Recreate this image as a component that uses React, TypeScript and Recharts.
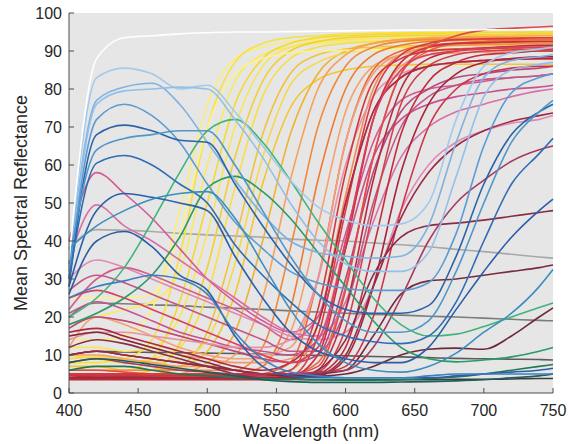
import { CartesianGrid, Line, LineChart, XAxis, YAxis } from "recharts";

// sampling grid (nm)
const wavelengths = [400, 420, 440, 460, 480, 500, 520, 540, 560, 580, 600, 620, 640, 660, 680, 700, 720, 740, 750];
const xTicks = [400, 450, 500, 550, 600, 650, 700, 750];
const yTicks = [0, 10, 20, 30, 40, 50, 60, 70, 80, 90, 100];

const graySeries = [
  [38, 43, 42.8, 42.5, 42, 41.6, 41.3, 41, 40.5, 40.2, 40, 39.5, 39, 38.5, 37.8, 37.2, 36.5, 35.8, 35.5],
  [21, 23.7, 23.5, 23.2, 23, 22.6, 22.3, 22, 21.6, 21.3, 21, 20.7, 20.5, 20.2, 20, 19.7, 19.4, 19.1, 19],
  [10, 11, 10.8, 10.7, 10.6, 10.5, 10.4, 10.2, 10, 9.9, 9.8, 9.6, 9.5, 9.3, 9.1, 9, 8.9, 8.8, 8.7],
  [4, 4.5, 4.4, 4.2, 4, 3.9, 3.8, 3.7, 3.6, 3.5, 3.5, 3.5, 3.5, 3.5, 3.6, 3.6, 3.7, 3.8, 3.8],
];
const grayColors = ["#a8a8a8", "#7c7c7c", "#5c5c5c", "#3c3c3c"];

const yellowSeries = [
  [14, 14, 15, 22, 48, 76, 88, 91, 92.5, 93, 93.5, 93.7, 93.8, 93.9, 94, 94, 94, 94, 94],
  [8, 8, 9, 14, 36, 70, 87, 92, 93.5, 94, 94.5, 94.7, 94.8, 94.9, 95, 95, 95, 95, 95],
  [18, 20, 22, 24, 32, 60, 82, 89, 91, 92, 92.5, 92.7, 92.8, 92.9, 93, 93, 93, 93, 93],
  [6, 6, 6, 9, 24, 50, 76, 88, 92, 93.5, 94, 94.3, 94.5, 94.6, 94.7, 94.8, 94.9, 95, 95],
  [12, 12, 11, 12, 20, 42, 70, 86, 91, 92.5, 93, 93.3, 93.5, 93.6, 93.7, 93.8, 93.9, 94, 94],
  [5, 5, 5, 6, 13, 33, 62, 82, 90, 92.5, 93.5, 93.8, 94, 94.1, 94.2, 94.3, 94.4, 94.5, 94.5],
  [10, 9, 8, 9, 12, 26, 54, 78, 88, 91, 92, 92.4, 92.6, 92.7, 92.8, 92.9, 93, 93, 93],
  [5, 5, 5, 5, 7, 16, 40, 68, 84, 89, 90.5, 91, 91.3, 91.5, 91.7, 91.8, 91.9, 92, 92],
  [7, 7, 6, 6, 7, 11, 26, 55, 75, 82.5, 85, 86, 86.3, 86.5, 86.5, 86.5, 86.5, 86.5, 86.5],
  [4, 4, 4, 4, 5, 8, 16, 40, 68, 84, 90, 92, 93, 93.3, 93.5, 93.5, 93.5, 93.5, 93.5],
  [9, 9.5, 9, 8, 9, 14, 34, 62, 81, 87, 89.5, 90.5, 91, 91.2, 91.4, 91.5, 91.5, 91.5, 91.5],
  [25, 25, 25, 26, 42, 70, 84, 88, 89.5, 90, 90.2, 90.3, 90.4, 90.5, 90.5, 90.5, 90.5, 90.5, 90.5],
];
const yellowColors = ["#fbee78", "#f7e23a", "#f9ea60", "#f5da2e", "#fae458", "#f3cf30", "#f8de48", "#f0c23a", "#f4c62c", "#efb232", "#f6d84a", "#fdf18e"];

const orangeSeries = [
  [10, 10, 9, 8, 7, 7, 10, 25, 56, 80, 89, 92, 93, 93.5, 93.7, 93.8, 93.9, 94, 94],
  [6, 6, 6, 6, 6, 6, 6, 12, 38, 70, 86, 91, 92.5, 93, 93.2, 93.3, 93.4, 93.5, 93.5],
  [5, 5, 5, 5, 5, 5, 5, 7, 22, 56, 80, 89, 91.5, 92.5, 92.8, 93, 93, 93, 93],
  [18, 20, 18, 15, 12, 10, 9, 9, 16, 44, 74, 86, 89, 90, 90.5, 90.7, 90.8, 91, 91],
  [4, 4, 4, 4, 4, 4, 4, 5, 8, 30, 66, 85, 90, 91.5, 92, 92.2, 92.3, 92.5, 92.5],
  [5, 5, 5, 5, 5, 5, 5, 5, 6, 18, 52, 80, 89, 91, 91.5, 91.7, 91.8, 92, 92],
  [15, 16, 14, 12, 10, 9, 8, 8, 9, 14, 40, 72, 86, 89, 89.5, 89.7, 89.8, 90, 90],
  [5, 5, 5, 5, 5, 5, 5, 5, 5, 8, 28, 62, 84, 90, 92, 92.5, 92.8, 93, 93],
  [12, 20, 19, 17, 15, 13, 11, 10, 12, 30, 66, 84, 89, 90, 90.5, 91, 91, 91, 91],
];
const orangeColors = ["#f7a05a", "#f08a3c", "#ee7a30", "#f4a070", "#ec6a2c", "#f28a50", "#f29870", "#e86a3e", "#f0a080"];

const pinkSeries = [
  [40, 58, 52.5, 46, 38, 30, 24, 19, 16, 20, 42, 66, 77, 80, 81, 82, 83, 83.5, 84],
  [35, 49.5, 44, 40, 35, 30, 25, 20, 16, 15, 24, 45, 62, 70, 74, 76, 78, 79.5, 80],
  [20, 24, 22, 19, 16, 14, 12, 11, 10, 14, 38, 62, 72, 76, 78, 79, 80, 80.5, 81],
  [30, 35, 33, 30, 27, 24, 21, 18, 15, 14, 16, 28, 48, 60, 66, 69, 71, 72, 73],
  [17, 20, 19, 17, 15, 13, 11, 9, 8, 10, 30, 58, 74, 80, 83, 84, 85, 85.5, 86],
  [22, 30, 33, 31, 28, 25, 22, 18, 14, 20, 50, 74, 83, 86, 87, 87.5, 87.8, 88, 88],
  [14, 16, 16, 15, 14, 13, 12, 12, 14, 30, 60, 78, 84, 86, 87, 87.5, 87.8, 88, 88],
  [27, 31, 29, 26, 23, 20, 17, 14, 11, 11, 22, 50, 70, 78, 81, 82.5, 83, 83.5, 84],
];
const pinkColors = ["#d45a96", "#d870a8", "#c85090", "#e088b8", "#b84880", "#d06090", "#e890a8", "#c05888"];

const redSeries = [
  [4, 4, 4, 4, 4, 4, 4, 4, 4.5, 15, 48, 78, 89, 92, 93, 93.2, 93.3, 93.5, 93.5],
  [5, 5, 5, 4.5, 4.5, 4.5, 4.5, 4.5, 4.5, 10, 38, 72, 87, 91, 92, 92.2, 92.4, 92.5, 92.5],
  [6, 6, 5.5, 5, 5, 5, 5, 5, 5, 7, 27, 62, 84, 91, 94, 95.5, 96, 96.3, 96.5],
  [3.5, 3.5, 3.5, 3.5, 3.5, 3.5, 3.5, 3.5, 3.5, 6, 22, 56, 80, 88, 90, 90.8, 91.2, 91.5, 91.5],
  [4, 4, 4, 4, 4, 4, 4, 4, 4, 5.5, 17, 48, 76, 86, 89, 90, 90.3, 90.5, 90.5],
  [3.8, 3.8, 3.8, 3.8, 3.8, 3.8, 3.8, 3.8, 3.8, 5, 12, 38, 68, 82, 87, 89, 89.5, 90, 90],
  [4, 4, 4, 4, 4, 4, 4, 4, 4, 4.5, 9, 28, 58, 76, 84, 87, 88, 88.5, 88.5],
  [4.5, 4.5, 4.5, 4.5, 4.5, 4.5, 4.5, 4.5, 4.5, 5, 7, 20, 48, 70, 80, 84, 85.5, 86, 86],
  [16, 17, 15, 13, 11, 9, 7, 6, 8, 18, 50, 74, 83, 86, 87, 87.5, 87.8, 88, 88],
  [5, 5, 5, 5, 5, 5, 5, 5, 6, 22, 58, 82, 88, 90, 90.5, 90.7, 90.8, 91, 91],
  [25, 27, 25, 22, 19, 16, 13, 10, 8, 12, 40, 72, 85, 89, 90, 90.5, 91, 91, 91],
];
const redColors = ["#d83a40", "#c8303e", "#e04a50", "#b82a3a", "#d0404a", "#c22c3c", "#a82438", "#cc3448", "#b0283c", "#d23838", "#d84060"];

const maroonSeries = [
  [12, 14, 13, 11, 9, 7, 5, 4, 4, 6, 14, 31, 41, 44, 44.7, 45.5, 46.5, 47.5, 48],
  [15, 16, 14, 12, 10, 8, 6, 5, 4.5, 5, 6, 15, 26, 29.5, 30, 31, 32, 33, 33.7],
  [10, 11, 10, 9, 8, 7, 6, 5, 4.5, 4.5, 5, 7, 10, 11.5, 11.8, 11.5, 15, 20, 22.4],
  [10, 11, 10, 9, 8, 7, 6, 5, 5, 5, 10, 28, 46, 58, 65, 69, 71.5, 73, 73.7],
  [8, 9, 8, 7, 6, 5.5, 5, 5, 5, 5.5, 6, 12, 25, 40, 50, 56, 61, 64, 65],
];
const maroonColors = ["#8a2c48", "#7a2a40", "#6e2a3a", "#9c2a44", "#a83a60"];

const greenSeries = [
  [20, 25, 33, 45, 58, 69, 72, 66, 56, 45, 35, 25, 18, 15, 15.5, 17.5, 20, 22.5, 23.7],
  [18, 21, 25, 31, 41, 54, 57, 53, 46, 37, 28, 19, 12, 9, 8.2, 8.7, 9.5, 11, 12],
  [6, 7, 7, 6, 5, 4.5, 4, 3.8, 3.6, 3.5, 3.4, 3.4, 3.5, 3.8, 4.2, 5, 6, 7, 7.5],
  [8, 9, 8.5, 7.5, 6.5, 5.5, 4.5, 3.5, 3, 2.8, 2.8, 2.8, 2.9, 3, 3.2, 3.5, 4, 4.5, 5],
];
const greenColors = ["#40b47a", "#2a9a68", "#1e7a50", "#1c5e5a"];

const blueSeries = [
  [33, 83, 85.5, 84, 80, 81, 74, 65, 56, 49, 45.5, 44, 44.5, 50, 72, 86, 89.5, 90.5, 91],
  [32, 77, 80.5, 81.5, 76, 66, 56, 47, 40, 37, 36, 35.5, 36, 44, 66, 83, 87.5, 88.5, 89],
  [30, 76, 79.5, 80, 80.5, 80, 72, 62, 50, 40, 34, 32, 32, 37, 57, 78, 85, 86.5, 87],
  [30, 72, 76, 73, 66, 55, 45, 38, 32, 29, 27.5, 27, 27, 29, 42, 65, 79, 83, 84],
  [28, 68, 70.5, 69, 66.5, 66, 55, 44, 34, 26, 22, 21, 21, 23, 36, 55, 68, 74, 76],
  [34, 64, 67, 68, 69, 69, 60, 48, 36, 26, 19, 16, 16, 19, 32, 50, 66, 74, 77],
  [30, 60.5, 62.5, 60, 55, 50, 39, 31, 24, 18, 15, 13.5, 13, 15, 24, 40, 55, 63, 67],
  [28, 48, 52.5, 51.5, 50, 48, 36, 25, 16, 11, 9, 8, 8, 12, 22, 32, 41, 48, 51],
  [38, 44, 48, 51, 52.5, 53, 46, 34, 22, 13, 8, 6, 5.5, 7, 10.5, 16, 21, 28, 32.5],
  [26, 40, 42.5, 38.5, 31, 27, 15, 7, 4.5, 4, 4, 4, 4, 4, 4.5, 5, 5.5, 6, 6.5],
  [25, 28, 29.5, 31, 30, 26, 16, 9, 5.5, 4.5, 4, 4, 4, 4.5, 5, 5, 5, 5, 5],
];
const blueColors = ["#a3c9ec", "#7fb2e0", "#93c0e8", "#5b9bd5", "#2a64a8", "#4f97c9", "#2f6db5", "#2b5ea8", "#3a8fbf", "#2c5ea6", "#3d7fc2"];

const whiteSeries = [35, 88, 93.5, 94, 94.5, 94.8, 95, 95, 95.1, 95.2, 95.3, 95.4, 95.5, 95.5, 95.5, 95.6, 95.6, 95.7, 95.7];

const groups = [
  { values: graySeries, colors: grayColors },
  { values: yellowSeries, colors: yellowColors },
  { values: orangeSeries, colors: orangeColors },
  { values: pinkSeries, colors: pinkColors },
  { values: redSeries, colors: redColors },
  { values: maroonSeries, colors: maroonColors },
  { values: greenSeries, colors: greenColors },
  { values: blueSeries, colors: blueColors },
  { values: [whiteSeries], colors: ["#ffffff"] },
];

const series = groups.flatMap((g) => g.values.map((values, i) => ({ values, color: g.colors[i] })));

const data = wavelengths.map((wl, i) => {
  const row: Record<string, number> = { wl };
  series.forEach((s, k) => {
    row[`s${k}`] = s.values[i];
  });
  return row;
});

const AXIS = "#4d4d4d";
const TEXT = "#262626";

function XTick({ x, y, payload }: any) {
  return (
    <g>
      <line x1={x} y1={y} x2={x} y2={y - 5} stroke={AXIS} />
      <text x={x} y={y + 23} textAnchor="middle" fill={TEXT} fontSize={16}>
        {payload.value}
      </text>
    </g>
  );
}

function YTick({ x, y, payload }: any) {
  return (
    <g>
      <line x1={x} y1={y} x2={x + 5} y2={y} stroke={AXIS} />
      <text x={x - 7} y={y + 6} textAnchor="end" fill={TEXT} fontSize={16}>
        {payload.value}
      </text>
    </g>
  );
}

function YTitle({ viewBox }: any) {
  const cx = viewBox.x + 27;
  const cy = viewBox.y + viewBox.height / 2;
  return (
    <text x={cx} y={cy} transform={`rotate(-90 ${cx} ${cy})`} textAnchor="middle" fill={TEXT} fontSize={18}>
      Mean Spectral Reflectance
    </text>
  );
}

function XTitle({ viewBox }: any) {
  const cx = viewBox.x + viewBox.width / 2;
  return (
    <text x={cx} y={437} textAnchor="middle" fill={TEXT} fontSize={18}>
      Wavelength (nm)
    </text>
  );
}

export default function App() {
  return (
    <div style={{ position: "absolute", left: 0, top: 0, width: 569, height: 444, background: "#fff" }}>
      <LineChart
        width={569}
        height={444}
        data={data}
        margin={{ top: 13, right: 16, bottom: 0, left: 0 }}
        style={{ fontFamily: "'Liberation Sans', Arial, Helvetica, sans-serif" }}
      >
        <CartesianGrid fill="#e6e6e6" horizontal={false} vertical={false} stroke="none" />
        <XAxis
          type="number"
          dataKey="wl"
          domain={[400, 750]}
          ticks={xTicks}
          interval={0}
          height={51}
          tickSize={0}
          tickMargin={0}
          tickLine={false}
          tick={<XTick />}
          axisLine={{ stroke: AXIS }}
          label={<XTitle />}
        />
        <YAxis
          type="number"
          domain={[0, 100]}
          ticks={yTicks}
          interval={0}
          width={69}
          tickSize={0}
          tickMargin={0}
          tickLine={false}
          tick={<YTick />}
          axisLine={{ stroke: AXIS }}
          label={<YTitle />}
        />
        {series.map((s, k) => (
          <Line
            key={k}
            dataKey={`s${k}`}
            type="monotone"
            stroke={s.color}
            strokeWidth={1.6}
            dot={false}
            activeDot={false}
            isAnimationActive={false}
          />
        ))}
      </LineChart>
    </div>
  );
}
